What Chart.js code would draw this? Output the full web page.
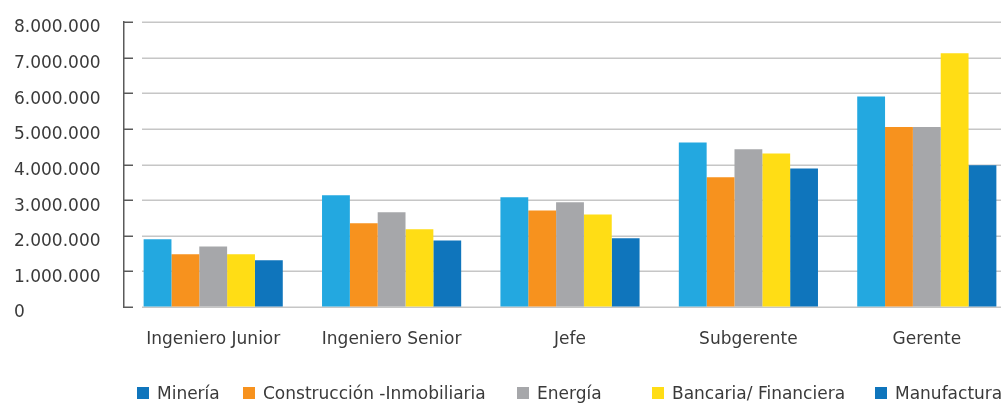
<!DOCTYPE html>
<html>
<head>
<meta charset="utf-8">
<script src="https://cdn.jsdelivr.net/npm/chart.js@4/dist/chart.umd.min.js"></script>
<style>
  html,body{margin:0;padding:0;background:#fff;overflow:hidden;width:1001px;height:404px}
  #wrap{position:absolute;left:0;top:0;width:1016px;height:404px}
  .lg{position:absolute;top:384px;font:17px "DejaVu Sans",sans-serif;color:#3a3a3a;white-space:nowrap;display:flex;align-items:center;line-height:18px}
  .lg i{display:inline-block;width:12px;height:12px;margin-right:8px}
</style>
</head>
<body>
<div id="wrap"><canvas id="c"></canvas></div>
<div id="legend"></div>
<script>
/* ── data ─────────────────────────────────────── */
const CATEGORIES = ["Ingeniero Junior", "Ingeniero Senior", "Jefe", "Subgerente", "Gerente"];
const SERIES     = ["Minería", "Construcción -Inmobiliaria", "Energía", "Bancaria/ Financiera", "Manufactura"];

const MINERIA      = [1900000, 3140000, 3080000, 4620000, 5910000];
const CONSTRUCCION = [1480000, 2350000, 2710000, 3640000, 5050000];
const ENERGIA      = [1700000, 2660000, 2940000, 4430000, 5050000];
const BANCARIA     = [1480000, 2180000, 2600000, 4310000, 7120000];
const MANUFACTURA  = [1310000, 1870000, 1930000, 3890000, 3980000];

const Y_TICKS = ["0", "1.000.000", "2.000.000", "3.000.000", "4.000.000",
                 "5.000.000", "6.000.000", "7.000.000", "8.000.000"];

const COLORS  = ["#23A8E0", "#F7921E", "#A6A7AA", "#FFDD15", "#0F75BC"];
// the original legend shows Minería with the dark blue swatch
const SWATCH  = ["#0F75BC", "#F7921E", "#A6A7AA", "#FFDD15", "#0F75BC"];
const LEGEND_X = [137, 243, 517, 652, 875];

const FONT = "'DejaVu Sans', sans-serif";
const INK  = "#3a3a3a";

/* gridlines start a little right of the axis, short dark ticks inside */
const axisDecor = {
  id: "axisDecor",
  beforeDatasetsDraw(chart) {
    const { ctx, chartArea: a, scales: { y } } = chart;
    ctx.save();
    y.ticks.forEach(t => {
      const py = Math.round(y.getPixelForValue(t.value)) + 0.25;
      ctx.strokeStyle = "#c6c6c6"; ctx.lineWidth = 1.5;
      ctx.beginPath(); ctx.moveTo(a.left + 18, py); ctx.lineTo(a.right, py); ctx.stroke();
      ctx.strokeStyle = "#5a5a5a"; ctx.lineWidth = 1.5;
      ctx.beginPath(); ctx.moveTo(a.left, py); ctx.lineTo(a.left + 9, py); ctx.stroke();
    });
    ctx.restore();
  }
};

const seriesData = [MINERIA, CONSTRUCCION, ENERGIA, BANCARIA, MANUFACTURA];

new Chart(document.getElementById("c"), {
  type: "bar",
  data: {
    labels: CATEGORIES,
    datasets: SERIES.map((name, i) => ({
      label: name,
      data: seriesData[i],
      backgroundColor: COLORS[i],
      borderWidth: 0,
      barPercentage: 1,
      categoryPercentage: 0.78,
    })),
  },
  options: {
    responsive: true,
    maintainAspectRatio: false,
    animation: false,
    layout: { padding: { left: 14, top: 22, right: 0, bottom: 0 } },
    plugins: { legend: { display: false }, tooltip: { enabled: false } },
    scales: {
      x: {
        grid: { display: false },
        border: { display: false },
        ticks: { font: { family: FONT, size: 17 }, color: INK, padding: 14, maxRotation: 0 },
        afterFit: s => { s.height = 97; },
      },
      y: {
        min: 0, max: 8000000,
        grid: { drawOnChartArea: false, drawTicks: false },
        border: { display: true, color: "#5a5a5a", width: 1.5 },
        ticks: {
          stepSize: 1000000,
          crossAlign: "far",
          labelOffset: 6,
          padding: 0,
          font: { family: FONT, size: 17 },
          color: INK,
          callback: (v, i) => Y_TICKS[i],
        },
        afterFit: s => { s.width = 110; },
      },
    },
  },
  plugins: [axisDecor],
});

/* legend with the original's uneven spacing */
const lg = document.getElementById("legend");
SERIES.forEach((name, i) => {
  const d = document.createElement("div");
  d.className = "lg";
  d.style.left = LEGEND_X[i] + "px";
  d.innerHTML = `<i style="background:${SWATCH[i]}"></i>${name}`;
  lg.appendChild(d);
});
</script>
</body>
</html>
